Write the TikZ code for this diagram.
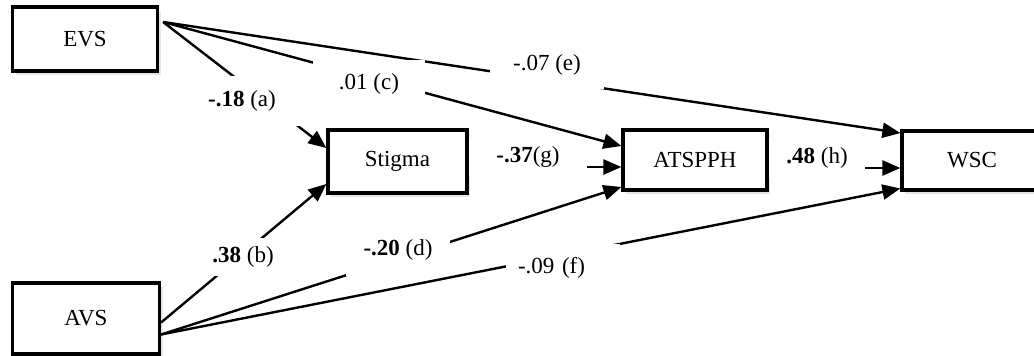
\documentclass[tikz,border=0pt]{standalone}
\usepackage{fontspec}
\setmainfont{Liberation Serif}
\usetikzlibrary{arrows.meta,shadows}

\begin{document}
\begin{tikzpicture}[x=1pt,y=-1pt,font=\fontsize{23}{27}\selectfont,
  box/.style={draw,line width=3.2pt,fill=white,inner sep=0pt,
    drop shadow={opacity=0.2,shadow xshift=3pt,shadow yshift=-4pt}},
  arr/.style={line width=2.4pt,-{Triangle[length=18pt,width=15pt]}},
  coef/.style={fill=white,inner sep=0pt}]
  \useasboundingbox (0,0) rectangle (1034,356);
  \foreach \n/\t/\x/\y/\w/\h in {evs/EVS/85/39/145/64,stigma/Stigma/397.5/161.5/139/63,atspph/ATSPPH/695/160/144/60,wsc/WSC/972/160.5/140/59,avs/AVS/86/318.5/147/71}
    \node[box,minimum width=\w,minimum height=\h] (\n) at (\x,\y) {\t};
  \coordinate (evsout) at ([xshift=4pt,yshift=17pt]evs.east);
  \coordinate (avsup) at ([yshift=-4pt]avs.east);
  \coordinate (avsdown) at ([yshift=-16pt]avs.east);
  % paths
  \draw[arr] (evsout) -- ([yshift=13.5pt]stigma.west);
  \draw[arr] (avsup) -- ([yshift=-22.5pt]stigma.west);
  \draw[arr] (evsout) -- ([yshift=14pt]atspph.west);
  \draw[arr] ([yshift=-5.5pt]stigma.east) -- ([yshift=-7pt]atspph.west);
  \draw[arr] (avsdown) -- ([yshift=-27pt]atspph.west);
  \draw[arr] (evsout) -- ([yshift=27.5pt]wsc.west);
  \draw[arr] ([yshift=-8pt]atspph.east) -- ([yshift=-7.5pt]wsc.west);
  \draw[arr] (avsdown) -- ([yshift=-28pt]wsc.west);
  % coefficients
  \node[coef,minimum width=116,minimum height=50] (ca) at (242,101) {\textbf{-.18} (a)};
  \node[coef,minimum width=84,minimum height=38] (cb) at (243,257) {\textbf{.38} (b)};
  \node[coef,minimum width=112,minimum height=48] (cc) at (369,84) {.01 (c)};
  \node[coef,minimum width=104,minimum height=52] (cd) at (398,250) {\textbf{-.20} (d)};
  \node[coef,minimum width=114,minimum height=48] (ce) at (547,65) {-.07 (e)};
  \node[coef,text width=90,align=left,inner xsep=12pt,minimum height=48] (cf) at (563,268) {-.09 (f)};
  \node[coef,minimum width=118,minimum height=38] (cg) at (528,157) {\textbf{-.37}(g)};
  \node[coef,minimum width=96,minimum height=40] (ch) at (817,158) {\textbf{.48} (h)};
\end{tikzpicture}
\end{document}
